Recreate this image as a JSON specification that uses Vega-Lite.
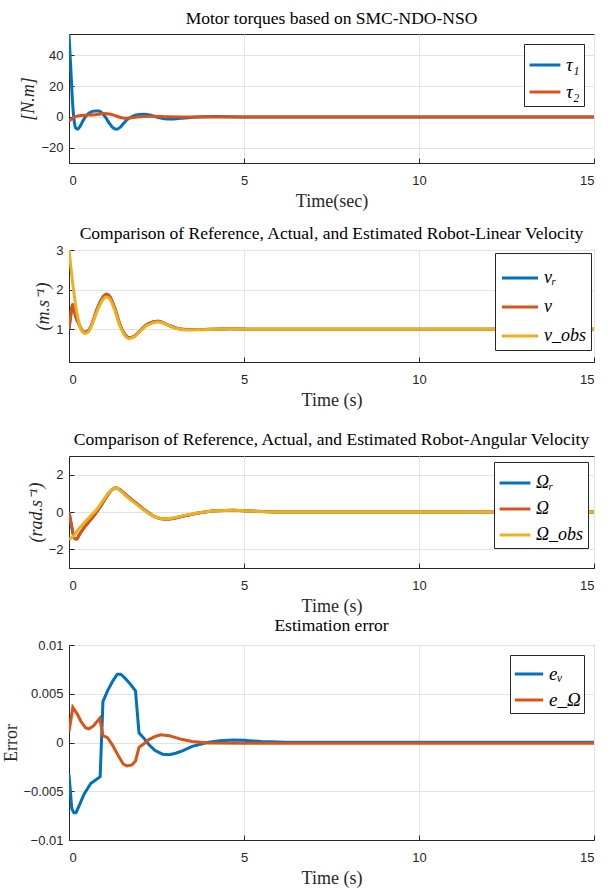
{
  "$schema": "https://vega.github.io/schema/vega-lite/v6.json",
  "background": "white",
  "padding": {"left": 2, "top": 9, "right": 8, "bottom": 0},
  "spacing": 0,
  "resolve": {"scale": {"color": "independent"}, "legend": {"color": "independent"}},
  "datasets": {
    "p1": [
      {"t":0,"y":53.5,"s":"τ₁"},{"t":0.05,"y":32,"s":"τ₁"},{"t":0.1,"y":10,"s":"τ₁"},{"t":0.15,"y":-3,"s":"τ₁"},{"t":0.2,"y":-7.5,"s":"τ₁"},{"t":0.25,"y":-8,"s":"τ₁"},{"t":0.32,"y":-6,"s":"τ₁"},{"t":0.4,"y":-2.5,"s":"τ₁"},{"t":0.5,"y":1,"s":"τ₁"},{"t":0.6,"y":2.8,"s":"τ₁"},{"t":0.75,"y":3.9,"s":"τ₁"},{"t":0.85,"y":3.8,"s":"τ₁"},{"t":0.95,"y":2.5,"s":"τ₁"},{"t":1.05,"y":-0.5,"s":"τ₁"},{"t":1.15,"y":-4,"s":"τ₁"},{"t":1.25,"y":-7,"s":"τ₁"},{"t":1.35,"y":-8,"s":"τ₁"},{"t":1.45,"y":-7,"s":"τ₁"},{"t":1.55,"y":-4.5,"s":"τ₁"},{"t":1.65,"y":-2,"s":"τ₁"},{"t":1.8,"y":0.3,"s":"τ₁"},{"t":2.0,"y":1.6,"s":"τ₁"},{"t":2.15,"y":1.8,"s":"τ₁"},{"t":2.3,"y":1.2,"s":"τ₁"},{"t":2.45,"y":0.3,"s":"τ₁"},{"t":2.6,"y":-0.6,"s":"τ₁"},{"t":2.8,"y":-1.3,"s":"τ₁"},{"t":3.0,"y":-1.3,"s":"τ₁"},{"t":3.2,"y":-0.9,"s":"τ₁"},{"t":3.5,"y":-0.3,"s":"τ₁"},{"t":3.8,"y":0.1,"s":"τ₁"},{"t":4.2,"y":0.2,"s":"τ₁"},{"t":5,"y":0,"s":"τ₁"},{"t":15,"y":0,"s":"τ₁"},
      {"t":0,"y":-2.5,"s":"τ₂"},{"t":0.1,"y":-1,"s":"τ₂"},{"t":0.2,"y":0.3,"s":"τ₂"},{"t":0.35,"y":1,"s":"τ₂"},{"t":0.5,"y":1.2,"s":"τ₂"},{"t":0.7,"y":1.3,"s":"τ₂"},{"t":0.85,"y":1.8,"s":"τ₂"},{"t":1.0,"y":2.2,"s":"τ₂"},{"t":1.15,"y":1.9,"s":"τ₂"},{"t":1.3,"y":1,"s":"τ₂"},{"t":1.45,"y":-0.2,"s":"τ₂"},{"t":1.6,"y":-0.8,"s":"τ₂"},{"t":1.75,"y":-0.7,"s":"τ₂"},{"t":1.9,"y":-0.2,"s":"τ₂"},{"t":2.1,"y":0.3,"s":"τ₂"},{"t":2.4,"y":0.4,"s":"τ₂"},{"t":2.8,"y":0.1,"s":"τ₂"},{"t":3.2,"y":0,"s":"τ₂"},{"t":15,"y":0,"s":"τ₂"}
    ],
    "p2": [
      {"t":0,"y":1.0,"s":"vᵣ"},{"t":0.05,"y":1.35,"s":"vᵣ"},{"t":0.1,"y":1.62,"s":"vᵣ"},{"t":0.14,"y":1.5,"s":"vᵣ"},{"t":0.2,"y":1.3,"s":"vᵣ"},{"t":0.3,"y":1.1,"s":"vᵣ"},{"t":0.37,"y":0.97,"s":"vᵣ"},{"t":0.45,"y":0.92,"s":"vᵣ"},{"t":0.55,"y":0.96,"s":"vᵣ"},{"t":0.65,"y":1.12,"s":"vᵣ"},{"t":0.8,"y":1.5,"s":"vᵣ"},{"t":0.95,"y":1.78,"s":"vᵣ"},{"t":1.07,"y":1.88,"s":"vᵣ"},{"t":1.15,"y":1.84,"s":"vᵣ"},{"t":1.3,"y":1.55,"s":"vᵣ"},{"t":1.45,"y":1.13,"s":"vᵣ"},{"t":1.6,"y":0.86,"s":"vᵣ"},{"t":1.72,"y":0.78,"s":"vᵣ"},{"t":1.85,"y":0.81,"s":"vᵣ"},{"t":2.0,"y":0.93,"s":"vᵣ"},{"t":2.2,"y":1.1,"s":"vᵣ"},{"t":2.4,"y":1.18,"s":"vᵣ"},{"t":2.55,"y":1.2,"s":"vᵣ"},{"t":2.7,"y":1.16,"s":"vᵣ"},{"t":2.9,"y":1.08,"s":"vᵣ"},{"t":3.1,"y":1.02,"s":"vᵣ"},{"t":3.35,"y":0.99,"s":"vᵣ"},{"t":3.7,"y":0.99,"s":"vᵣ"},{"t":4.2,"y":1.0,"s":"vᵣ"},{"t":4.6,"y":1.01,"s":"vᵣ"},{"t":5.2,"y":1.0,"s":"vᵣ"},{"t":15,"y":1.0,"s":"vᵣ"},
      {"t":0,"y":1.0,"s":"v"},{"t":0.05,"y":1.35,"s":"v"},{"t":0.1,"y":1.62,"s":"v"},{"t":0.14,"y":1.5,"s":"v"},{"t":0.2,"y":1.3,"s":"v"},{"t":0.3,"y":1.1,"s":"v"},{"t":0.37,"y":0.97,"s":"v"},{"t":0.45,"y":0.92,"s":"v"},{"t":0.55,"y":0.96,"s":"v"},{"t":0.65,"y":1.12,"s":"v"},{"t":0.8,"y":1.5,"s":"v"},{"t":0.95,"y":1.78,"s":"v"},{"t":1.07,"y":1.88,"s":"v"},{"t":1.15,"y":1.84,"s":"v"},{"t":1.3,"y":1.55,"s":"v"},{"t":1.45,"y":1.13,"s":"v"},{"t":1.6,"y":0.86,"s":"v"},{"t":1.72,"y":0.78,"s":"v"},{"t":1.85,"y":0.81,"s":"v"},{"t":2.0,"y":0.93,"s":"v"},{"t":2.2,"y":1.1,"s":"v"},{"t":2.4,"y":1.18,"s":"v"},{"t":2.55,"y":1.2,"s":"v"},{"t":2.7,"y":1.16,"s":"v"},{"t":2.9,"y":1.08,"s":"v"},{"t":3.1,"y":1.02,"s":"v"},{"t":3.35,"y":0.99,"s":"v"},{"t":3.7,"y":0.99,"s":"v"},{"t":4.2,"y":1.0,"s":"v"},{"t":4.6,"y":1.01,"s":"v"},{"t":5.2,"y":1.0,"s":"v"},{"t":15,"y":1.0,"s":"v"},
      {"t":0,"y":3.0,"s":"v_obs"},{"t":0.05,"y":2.6,"s":"v_obs"},{"t":0.1,"y":2.2,"s":"v_obs"},{"t":0.15,"y":1.85,"s":"v_obs"},{"t":0.2,"y":1.55,"s":"v_obs"},{"t":0.25,"y":1.3,"s":"v_obs"},{"t":0.3,"y":1.1,"s":"v_obs"},{"t":0.37,"y":0.95,"s":"v_obs"},{"t":0.45,"y":0.89,"s":"v_obs"},{"t":0.55,"y":0.93,"s":"v_obs"},{"t":0.65,"y":1.1,"s":"v_obs"},{"t":0.8,"y":1.45,"s":"v_obs"},{"t":0.95,"y":1.72,"s":"v_obs"},{"t":1.07,"y":1.81,"s":"v_obs"},{"t":1.15,"y":1.78,"s":"v_obs"},{"t":1.3,"y":1.5,"s":"v_obs"},{"t":1.45,"y":1.1,"s":"v_obs"},{"t":1.6,"y":0.83,"s":"v_obs"},{"t":1.72,"y":0.76,"s":"v_obs"},{"t":1.85,"y":0.8,"s":"v_obs"},{"t":2.0,"y":0.92,"s":"v_obs"},{"t":2.2,"y":1.08,"s":"v_obs"},{"t":2.4,"y":1.16,"s":"v_obs"},{"t":2.55,"y":1.18,"s":"v_obs"},{"t":2.7,"y":1.15,"s":"v_obs"},{"t":2.9,"y":1.07,"s":"v_obs"},{"t":3.1,"y":1.01,"s":"v_obs"},{"t":3.35,"y":0.98,"s":"v_obs"},{"t":3.7,"y":0.985,"s":"v_obs"},{"t":4.2,"y":1.0,"s":"v_obs"},{"t":4.6,"y":1.01,"s":"v_obs"},{"t":5.2,"y":1.0,"s":"v_obs"},{"t":15,"y":1.0,"s":"v_obs"}
    ],
    "p3": [
      {"t":0,"y":0,"s":"Ωᵣ"},{"t":0.08,"y":-0.8,"s":"Ωᵣ"},{"t":0.15,"y":-1.4,"s":"Ωᵣ"},{"t":0.22,"y":-1.45,"s":"Ωᵣ"},{"t":0.3,"y":-1.2,"s":"Ωᵣ"},{"t":0.45,"y":-0.8,"s":"Ωᵣ"},{"t":0.6,"y":-0.45,"s":"Ωᵣ"},{"t":0.75,"y":-0.1,"s":"Ωᵣ"},{"t":0.9,"y":0.3,"s":"Ωᵣ"},{"t":1.05,"y":0.75,"s":"Ωᵣ"},{"t":1.2,"y":1.15,"s":"Ωᵣ"},{"t":1.33,"y":1.3,"s":"Ωᵣ"},{"t":1.45,"y":1.2,"s":"Ωᵣ"},{"t":1.6,"y":0.95,"s":"Ωᵣ"},{"t":1.8,"y":0.65,"s":"Ωᵣ"},{"t":2.0,"y":0.35,"s":"Ωᵣ"},{"t":2.2,"y":0.05,"s":"Ωᵣ"},{"t":2.4,"y":-0.2,"s":"Ωᵣ"},{"t":2.6,"y":-0.35,"s":"Ωᵣ"},{"t":2.8,"y":-0.38,"s":"Ωᵣ"},{"t":3.0,"y":-0.33,"s":"Ωᵣ"},{"t":3.3,"y":-0.2,"s":"Ωᵣ"},{"t":3.7,"y":-0.05,"s":"Ωᵣ"},{"t":4.2,"y":0.07,"s":"Ωᵣ"},{"t":4.7,"y":0.1,"s":"Ωᵣ"},{"t":5.2,"y":0.05,"s":"Ωᵣ"},{"t":6,"y":0,"s":"Ωᵣ"},{"t":15,"y":0,"s":"Ωᵣ"},
      {"t":0,"y":0,"s":"Ω"},{"t":0.08,"y":-0.8,"s":"Ω"},{"t":0.15,"y":-1.4,"s":"Ω"},{"t":0.22,"y":-1.45,"s":"Ω"},{"t":0.3,"y":-1.2,"s":"Ω"},{"t":0.45,"y":-0.8,"s":"Ω"},{"t":0.6,"y":-0.45,"s":"Ω"},{"t":0.75,"y":-0.1,"s":"Ω"},{"t":0.9,"y":0.3,"s":"Ω"},{"t":1.05,"y":0.75,"s":"Ω"},{"t":1.2,"y":1.15,"s":"Ω"},{"t":1.33,"y":1.3,"s":"Ω"},{"t":1.45,"y":1.2,"s":"Ω"},{"t":1.6,"y":0.95,"s":"Ω"},{"t":1.8,"y":0.65,"s":"Ω"},{"t":2.0,"y":0.35,"s":"Ω"},{"t":2.2,"y":0.05,"s":"Ω"},{"t":2.4,"y":-0.2,"s":"Ω"},{"t":2.6,"y":-0.35,"s":"Ω"},{"t":2.8,"y":-0.38,"s":"Ω"},{"t":3.0,"y":-0.33,"s":"Ω"},{"t":3.3,"y":-0.2,"s":"Ω"},{"t":3.7,"y":-0.05,"s":"Ω"},{"t":4.2,"y":0.07,"s":"Ω"},{"t":4.7,"y":0.1,"s":"Ω"},{"t":5.2,"y":0.05,"s":"Ω"},{"t":6,"y":0,"s":"Ω"},{"t":15,"y":0,"s":"Ω"},
      {"t":0,"y":-1.45,"s":"Ω_obs"},{"t":0.1,"y":-1.35,"s":"Ω_obs"},{"t":0.2,"y":-1.1,"s":"Ω_obs"},{"t":0.35,"y":-0.75,"s":"Ω_obs"},{"t":0.5,"y":-0.45,"s":"Ω_obs"},{"t":0.65,"y":-0.15,"s":"Ω_obs"},{"t":0.8,"y":0.15,"s":"Ω_obs"},{"t":0.95,"y":0.55,"s":"Ω_obs"},{"t":1.1,"y":0.95,"s":"Ω_obs"},{"t":1.25,"y":1.25,"s":"Ω_obs"},{"t":1.32,"y":1.3,"s":"Ω_obs"},{"t":1.45,"y":1.17,"s":"Ω_obs"},{"t":1.6,"y":0.9,"s":"Ω_obs"},{"t":1.8,"y":0.6,"s":"Ω_obs"},{"t":2.0,"y":0.3,"s":"Ω_obs"},{"t":2.2,"y":0.02,"s":"Ω_obs"},{"t":2.4,"y":-0.2,"s":"Ω_obs"},{"t":2.6,"y":-0.33,"s":"Ω_obs"},{"t":2.8,"y":-0.36,"s":"Ω_obs"},{"t":3.0,"y":-0.31,"s":"Ω_obs"},{"t":3.3,"y":-0.18,"s":"Ω_obs"},{"t":3.7,"y":-0.04,"s":"Ω_obs"},{"t":4.2,"y":0.07,"s":"Ω_obs"},{"t":4.7,"y":0.09,"s":"Ω_obs"},{"t":5.2,"y":0.05,"s":"Ω_obs"},{"t":6,"y":0,"s":"Ω_obs"},{"t":15,"y":0,"s":"Ω_obs"}
    ],
    "p4": [
      {"t":0,"y":-0.0033,"s":"eᵥ"},{"t":0.08,"y":-0.0068,"s":"eᵥ"},{"t":0.14,"y":-0.0072,"s":"eᵥ"},{"t":0.2,"y":-0.0072,"s":"eᵥ"},{"t":0.3,"y":-0.0064,"s":"eᵥ"},{"t":0.43,"y":-0.0053,"s":"eᵥ"},{"t":0.62,"y":-0.0042,"s":"eᵥ"},{"t":0.89,"y":-0.0035,"s":"eᵥ"},{"t":0.97,"y":0.0042,"s":"eᵥ"},{"t":1.1,"y":0.0053,"s":"eᵥ"},{"t":1.25,"y":0.0063,"s":"eᵥ"},{"t":1.38,"y":0.007,"s":"eᵥ"},{"t":1.48,"y":0.007,"s":"eᵥ"},{"t":1.6,"y":0.0066,"s":"eᵥ"},{"t":1.75,"y":0.006,"s":"eᵥ"},{"t":1.9,"y":0.0053,"s":"eᵥ"},{"t":2.0,"y":0.001,"s":"eᵥ"},{"t":2.15,"y":0.0004,"s":"eᵥ"},{"t":2.28,"y":-0.0002,"s":"eᵥ"},{"t":2.45,"y":-0.0008,"s":"eᵥ"},{"t":2.67,"y":-0.0012,"s":"eᵥ"},{"t":2.86,"y":-0.00125,"s":"eᵥ"},{"t":3.05,"y":-0.0011,"s":"eᵥ"},{"t":3.24,"y":-0.00085,"s":"eᵥ"},{"t":3.52,"y":-0.0004,"s":"eᵥ"},{"t":3.95,"y":0.0,"s":"eᵥ"},{"t":4.3,"y":0.00018,"s":"eᵥ"},{"t":4.7,"y":0.00025,"s":"eᵥ"},{"t":5.0,"y":0.00022,"s":"eᵥ"},{"t":5.5,"y":0.0001,"s":"eᵥ"},{"t":6.2,"y":0.00003,"s":"eᵥ"},{"t":15,"y":0.00002,"s":"eᵥ"},
      {"t":0,"y":0.0011,"s":"e_Ω"},{"t":0.11,"y":0.0036,"s":"e_Ω"},{"t":0.24,"y":0.0029,"s":"e_Ω"},{"t":0.35,"y":0.0021,"s":"e_Ω"},{"t":0.48,"y":0.0015,"s":"e_Ω"},{"t":0.57,"y":0.0014,"s":"e_Ω"},{"t":0.7,"y":0.0017,"s":"e_Ω"},{"t":0.88,"y":0.0025,"s":"e_Ω"},{"t":0.97,"y":0.0007,"s":"e_Ω"},{"t":1.1,"y":0.0005,"s":"e_Ω"},{"t":1.25,"y":-0.0003,"s":"e_Ω"},{"t":1.43,"y":-0.0015,"s":"e_Ω"},{"t":1.55,"y":-0.0022,"s":"e_Ω"},{"t":1.65,"y":-0.0024,"s":"e_Ω"},{"t":1.8,"y":-0.0023,"s":"e_Ω"},{"t":1.9,"y":-0.0019,"s":"e_Ω"},{"t":2.0,"y":-0.0005,"s":"e_Ω"},{"t":2.15,"y":-0.0001,"s":"e_Ω"},{"t":2.28,"y":0.0003,"s":"e_Ω"},{"t":2.45,"y":0.0006,"s":"e_Ω"},{"t":2.62,"y":0.0008,"s":"e_Ω"},{"t":2.86,"y":0.0007,"s":"e_Ω"},{"t":3.05,"y":0.0005,"s":"e_Ω"},{"t":3.24,"y":0.0003,"s":"e_Ω"},{"t":3.52,"y":0.0001,"s":"e_Ω"},{"t":4.0,"y":-0.00005,"s":"e_Ω"},{"t":5,"y":-0.00008,"s":"e_Ω"},{"t":15,"y":-0.00008,"s":"e_Ω"}
    ]
  },
  "vconcat": [
    {
      "width": 525, "height": 129,
      "title": {"text": "Motor torques based on SMC-NDO-NSO", "offset": 7},
      "data": {"name": "p1"},
      "mark": {"type": "line", "strokeWidth": 3, "interpolate": "monotone", "clip": true},
      "encoding": {
        "x": {"field": "t", "type": "quantitative", "scale": {"domain": [0, 15], "nice": false}, "axis": {"values": [0, 5, 10, 15], "title": "Time(sec)"}},
        "y": {"field": "y", "type": "quantitative", "scale": {"domain": [-30, 54], "nice": false, "zero": false}, "axis": {"values": [-20, 0, 20, 40], "title": "[N.m]", "titleFontStyle": "italic"}},
        "color": {"field": "s", "type": "nominal", "sort": ["τ₁", "τ₂"], "scale": {"domain": ["τ₁", "τ₂"], "range": ["#0072BD", "#D95319"]}, "legend": {"rowPadding": 0, "padding": 4, "offset": 10, "symbolSize": 950}}
      }
    },
    {
      "width": 525, "height": 112,
      "title": {"text": [" ", "Comparison of Reference, Actual, and Estimated Robot-Linear Velocity"], "offset": 2, "lineHeight": 13},
      "data": {"name": "p2"},
      "mark": {"type": "line", "strokeWidth": 3, "interpolate": "monotone", "clip": true},
      "encoding": {
        "x": {"field": "t", "type": "quantitative", "scale": {"domain": [0, 15], "nice": false}, "axis": {"values": [0, 5, 10, 15], "title": "Time (s)"}},
        "y": {"field": "y", "type": "quantitative", "scale": {"domain": [0.17, 3], "nice": false, "zero": false}, "axis": {"values": [1, 2, 3], "title": "(m.s⁻¹)", "titleFontStyle": "italic"}},
        "color": {"field": "s", "type": "nominal", "sort": ["vᵣ", "v", "v_obs"], "scale": {"domain": ["vᵣ", "v", "v_obs"], "range": ["#0072BD", "#D95319", "#EDB120"]}, "legend": {"rowPadding": 0, "offset": 3, "padding": 5, "labelFontSize": 18, "symbolSize": 1300}}
      }
    },
    {
      "width": 525, "height": 112,
      "title": {"text": [" ", "Comparison of Reference, Actual, and Estimated Robot-Angular Velocity"], "offset": 8, "lineHeight": 20},
      "data": {"name": "p3"},
      "mark": {"type": "line", "strokeWidth": 3, "interpolate": "monotone", "clip": true},
      "encoding": {
        "x": {"field": "t", "type": "quantitative", "scale": {"domain": [0, 15], "nice": false}, "axis": {"values": [0, 5, 10, 15], "title": "Time (s)"}},
        "y": {"field": "y", "type": "quantitative", "scale": {"domain": [-3, 3], "nice": false}, "axis": {"values": [-2, 0, 2], "title": "(rad.s⁻¹)", "titleFontStyle": "italic"}},
        "color": {"field": "s", "type": "nominal", "sort": ["Ωᵣ", "Ω", "Ω_obs"], "scale": {"domain": ["Ωᵣ", "Ω", "Ω_obs"], "range": ["#0072BD", "#D95319", "#EDB120"]}, "legend": {"rowPadding": 0, "offset": 6, "padding": 4, "labelFontSize": 18, "symbolSize": 950}}
      }
    },
    {
      "width": 525, "height": 195,
      "title": {"text": "Estimation error", "offset": 5},
      "data": {"name": "p4"},
      "mark": {"type": "line", "strokeWidth": 3, "interpolate": "linear", "clip": true},
      "encoding": {
        "x": {"field": "t", "type": "quantitative", "scale": {"domain": [0, 15], "nice": false}, "axis": {"values": [0, 5, 10, 15], "title": "Time (s)"}},
        "y": {"field": "y", "type": "quantitative", "scale": {"domain": [-0.01, 0.01], "nice": false}, "axis": {"values": [-0.01, -0.005, 0, 0.005, 0.01], "format": "~g", "title": "Error", "titlePadding": 2}},
        "color": {"field": "s", "type": "nominal", "sort": ["eᵥ", "e_Ω"], "scale": {"domain": ["eᵥ", "e_Ω"], "range": ["#0072BD", "#D95319"]}, "legend": {"rowPadding": 0, "padding": 3, "offset": 10, "symbolSize": 800}}
      }
    }
  ],
  "config": {
    "view": {"stroke": "#262626", "strokeWidth": 1},
    "title": {"font": "Liberation Serif", "fontSize": 17.5, "fontWeight": "normal", "color": "#000000"},
    "axis": {
      "labelFont": "Liberation Sans", "labelFontSize": 13, "labelColor": "#262626",
      "titleFont": "Liberation Serif", "titleFontSize": 18, "titleFontWeight": "normal", "titleColor": "#262626",
      "domainColor": "#262626", "tickColor": "#262626", "gridColor": "#e3e3e3", "grid": true,
      "tickSize": -5, "labelPadding": 11, "titlePadding": 3
    },
    "axisX": {"labelPadding": 16, "titlePadding": 5},
    "legend": {
      "orient": "top-right", "offset": 9, "title": null,
      "strokeColor": "#262626", "fillColor": "white", "padding": 6,
      "symbolType": "stroke", "symbolSize": 1200, "symbolStrokeWidth": 3,
      "labelFont": "Liberation Serif", "labelFontStyle": "italic", "labelFontSize": 19, "labelColor": "#000000"
    }
  }
}
